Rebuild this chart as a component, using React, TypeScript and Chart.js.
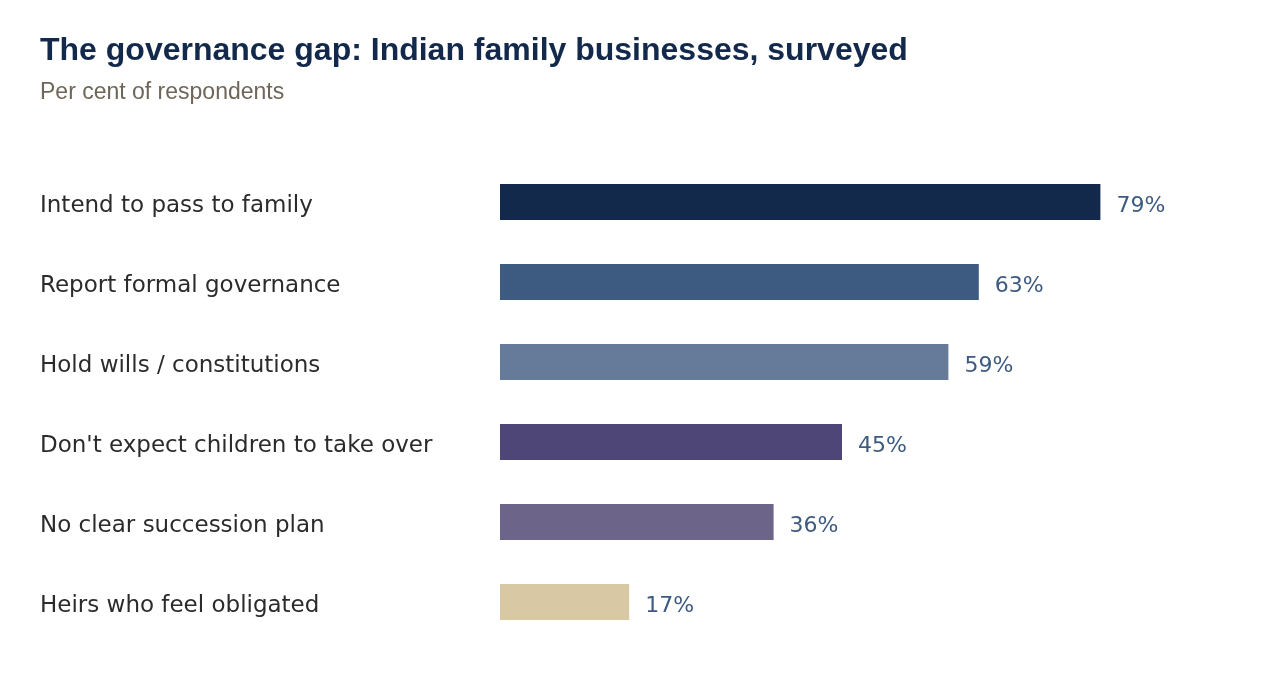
import { useEffect, useRef } from "react";
import { Chart, registerables } from "chart.js";

Chart.register(...registerables);

const categories = [
  "Intend to pass to family",
  "Report formal governance",
  "Hold wills / constitutions",
  "Don't expect children to take over",
  "No clear succession plan",
  "Heirs who feel obligated",
];
const values = [79, 63, 59, 45, 36, 17];
const barColors = ["#13294b", "#3d5a80", "#667b99", "#4e4676", "#6d648a", "#d8c8a3"];

// category names on the left and percentages after each bar
const barText = {
  id: "barText",
  afterDatasetsDraw(chart: Chart) {
    const { ctx } = chart;
    const meta = chart.getDatasetMeta(0);
    ctx.save();
    ctx.textAlign = "left";
    ctx.textBaseline = "alphabetic";
    meta.data.forEach((bar: any, i: number) => {
      ctx.font = "23px 'DejaVu Sans'";
      ctx.fillStyle = "#2b2b2b";
      ctx.fillText(String(chart.data.labels![i]), 40, bar.y + 10);
      ctx.font = "22px 'DejaVu Sans'";
      ctx.fillStyle = "#3d5a80";
      ctx.fillText(values[i] + "%", bar.x + 16, bar.y + 10);
    });
    ctx.restore();
  },
};

export default function App() {
  const canvasRef = useRef<HTMLCanvasElement>(null);

  useEffect(() => {
    if (!canvasRef.current) return;
    const chart = new Chart(canvasRef.current, {
      type: "bar",
      data: {
        labels: categories,
        datasets: [
          {
            data: values,
            backgroundColor: barColors,
            borderWidth: 0,
            categoryPercentage: 1,
            barPercentage: 0.45,
          },
        ],
      },
      options: {
        indexAxis: "y",
        animation: false,
        responsive: false,
        devicePixelRatio: 1,
        layout: { padding: { left: 500, right: 20, top: 162, bottom: 54 } },
        plugins: {
          legend: { display: false },
          tooltip: { enabled: false },
        },
        scales: {
          x: { display: false, min: 0, max: 100 },
          y: { display: false },
        },
      },
      plugins: [barText],
    });
    return () => chart.destroy();
  }, []);

  return (
    <div style={{ position: "absolute", left: 0, top: 0, width: 1280, height: 696, background: "#fff" }}>
      <canvas ref={canvasRef} width={1280} height={696} style={{ position: "absolute", left: 0, top: 0 }} />
      <div
        style={{
          position: "absolute",
          left: 40,
          top: 33,
          fontFamily: "'Liberation Sans', Arial, sans-serif",
          fontWeight: "bold",
          fontSize: 32,
          lineHeight: "32px",
          color: "#13294b",
          whiteSpace: "nowrap",
        }}
      >
        The governance gap: Indian family businesses, surveyed
      </div>
      <div
        style={{
          position: "absolute",
          left: 40,
          top: 80,
          fontFamily: "'Liberation Sans', Arial, sans-serif",
          fontSize: 23,
          lineHeight: "23px",
          color: "#6e6659",
          whiteSpace: "nowrap",
        }}
      >
        Per cent of respondents
      </div>
    </div>
  );
}
